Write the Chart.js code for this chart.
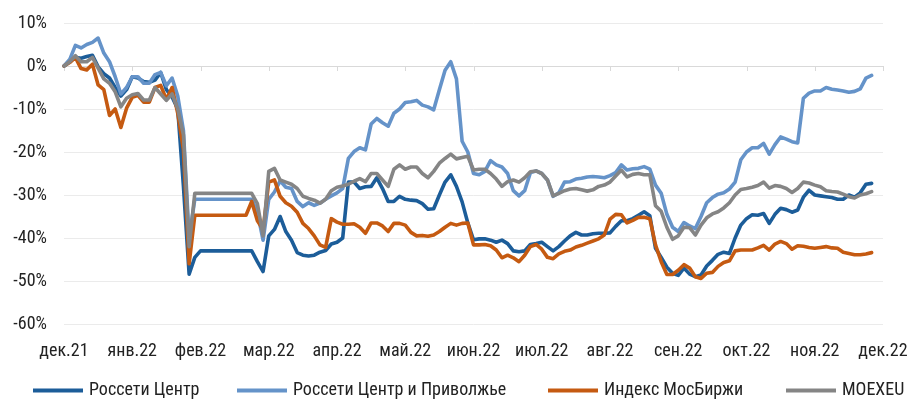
<!DOCTYPE html>
<html>
<head>
<meta charset="utf-8">
<script src="https://cdn.jsdelivr.net/npm/chart.js@4.4.1/dist/chart.umd.min.js"></script>
<style>
  html, body { margin: 0; padding: 0; background: #ffffff; }
  #wrap { width: 908px; height: 403px; position: relative; }
</style>
</head>
<body>
<div id="wrap"><canvas id="c" width="908" height="403"></canvas></div>
<script>
// ---- Data (values in %, one row per month, 12 points per month) ----
const monthLabels = ['дек.21','янв.22','фев.22','мар.22','апр.22','май.22','июн.22','июл.22','авг.22','сен.22','окт.22','ноя.22','дек.22'];
const pointsPerMonth = 12;
const seriesNames = ['Россети Центр', 'Россети Центр и Приволжье', 'Индекс МосБиржи', 'MOEXEU'];

const rossetiCenter = [
  0, 1, 2, 1.8, 2.2, 2.5, -0.2, -1.8, -2.8, -5, -7, -5.5,
  -2.5, -2.8, -3.6, -3.8, -3.3, -1.5, -5.5, -7.2, -10, -28, -48.4, -44.5,
  -43, -43, -43, -43, -43, -43, -43, -43, -43, -43, -45.5, -47.8,
  -39.5, -38, -35, -38.5, -40.5, -43.4, -44, -44.2, -44, -43.3, -42.9, -41.4,
  -41, -40, -27, -27, -28.5, -28.1, -28, -26, -28.5, -31.5, -31.5, -30.3,
  -31, -31.2, -31.3, -32, -33.3, -33.2, -30, -27, -25.3, -28, -31.6, -36.5,
  -40.4, -40.2, -40.2, -40.5, -41, -40.5, -41.3, -43, -43.2, -43, -41.5, -41.3,
  -41, -42, -43, -42, -40.7, -39.5, -38.7, -39.3, -39.3, -39, -38.9, -38.9,
  -38.8, -37.3, -36, -36, -35.5, -34.7, -33.9, -34.8, -42.4, -44.5, -46.8, -48.2,
  -48.7, -47, -48.4, -49, -48.6, -46.5, -45.2, -43.8, -43.3, -43.6, -40, -37,
  -35.5, -34.6, -34.7, -34.3, -36.6, -34.5, -33.1, -33.4, -34, -33.5, -30.5, -28.9,
  -30, -30.2, -30.4, -30.6, -31, -31, -30, -30.5, -29.5, -27.5, -27.3
];

const rossetiPrivolzhye = [
  0, 1.5, 4.8, 4.2, 5, 5.5, 6.5, 3, 1, -2.5, -6.5, -5,
  -2.5, -2.5, -4, -4, -2, -1.5, -4.6, -2.8, -7, -15, -40, -31,
  -31, -31, -31, -31, -31, -31, -31, -31, -31, -31, -34, -40.5,
  -31, -29.3, -26.7, -28.2, -28.5, -31.5, -32.7, -31.8, -32.4, -31.9, -31, -30.2,
  -29.5, -28.5, -21.5, -19.9, -19, -19.5, -13.5, -12.2, -13.2, -14, -11, -10,
  -8.5, -8.3, -8, -9.1, -9.5, -10.2, -5.5, -1, 1, -3, -17.5, -20,
  -25, -25.3, -24.5, -22, -23, -23.5, -25, -29, -30.2, -29, -24.8, -24.4,
  -25, -26.5, -30.3, -29.5, -27, -26.9, -26.3, -26.1, -25.8, -25.7, -25.8, -26,
  -25.5, -24.8, -23, -24.2, -23.9, -23.8, -23.4, -24, -27.7, -29.6, -34.5, -37.5,
  -38.5, -36.4, -37.2, -37.8, -35, -31.8, -30.6, -29.8, -29.5, -28.6, -27, -21.8,
  -20, -19, -19, -18, -20.5, -18.3, -16.5, -17, -17.6, -17.9, -7.5, -6.3,
  -5.8, -5.8, -5, -5.4, -5.6, -5.8, -6.1, -5.9, -5.3, -2.8, -2.2
];

const moexIndex = [
  0, 0.8, 2, -0.6, -0.9, 0.4, -4.4, -5.5, -11.5, -10, -14.3, -9.8,
  -7.3, -6.8, -8.4, -8.4, -5, -4.5, -7.8, -5, -11, -19.5, -46, -34.7,
  -34.7, -34.7, -34.7, -34.7, -34.7, -34.7, -34.7, -34.7, -34.7, -31.5, -36, -38,
  -27, -26.5, -30.3, -31.8, -32.6, -34, -36.6, -37.8, -39.5, -41.6, -42.2, -35.5,
  -36.3, -36.8, -36.8, -36.7, -37.5, -38.9, -36.5, -36.5, -37.2, -38.5, -36.6, -36.6,
  -37, -38.7, -39.5, -39.4, -39.6, -39.3, -38.5, -37.5, -36.6, -37, -36.6, -36.5,
  -41.6, -41.6, -41.5, -41.8, -42.8, -44.6, -44, -44.6, -45.5, -44, -42, -41.5,
  -42.6, -44.5, -44.8, -43.7, -43.1, -42.8, -42.1, -41.7, -41.2, -40.7, -40.2, -39.3,
  -35.6, -34.5, -34.6, -36.5, -35.9, -35.2, -35.2, -35.5, -41.6, -45.5, -48.5, -48.5,
  -47.5, -46.2, -47, -49, -49.4, -48.2, -48, -46.6, -45.7, -45.3, -43, -42.8,
  -42.8, -42.8, -42.3, -41.7, -42.8, -41.4, -40.8, -41.3, -42.6, -41.8, -41.9, -42.2,
  -42.4, -42.2, -42, -42.3, -42.4, -43.3, -43.6, -43.9, -43.9, -43.7, -43.4
];

const moexeu = [
  0, 1, 2.4, 1, 1, 2, -0.5, -3, -4, -6, -9.5, -7.5,
  -6.7, -6.4, -7.9, -7.9, -5, -6.5, -8, -6.5, -10, -16, -42, -29.6,
  -29.6, -29.6, -29.6, -29.6, -29.6, -29.6, -29.6, -29.6, -29.6, -29.6, -32, -39.5,
  -24.5, -23.8, -26.5, -27, -27.5, -28.5, -30.3, -30.8, -31.2, -31.9, -31, -29,
  -28.2, -27.9, -27.5, -26.8, -26.2, -26.9, -25, -25, -26.5, -28, -24, -23,
  -24, -23.5, -23.5, -25, -26, -24.5, -22.6, -21.5, -20.5, -21.6, -21.3, -21,
  -24.2, -24, -24, -25, -26.3, -28, -26.9, -26.5, -27, -26, -24.6, -24.4,
  -25, -26.5, -30.2, -29.6, -29, -28.6, -28.5, -28.8, -29.1, -28.8, -28, -27.7,
  -27, -25.6, -24.2, -25.8, -25.2, -25, -25.3, -25.3, -32.5, -33.8, -37.5, -40.3,
  -39.5, -37.5, -37.6, -39.3, -37, -35.3, -34.4, -33.9, -33, -31.8, -30, -28.7,
  -28.5, -28.2, -27.8, -27, -28.4, -27.8, -28, -28.5, -29.4, -28.5, -27, -27.2,
  -27.7, -28.1, -29, -29.2, -29.3, -29.8, -30.4, -30.7, -30, -29.7, -29.2
];

const yTicks = [10, 0, -10, -20, -30, -40, -50, -60];

// ---- Build category labels: month label at every 12th point ----
const categories = [];
monthLabels.forEach((m, k) => {
  categories.push(m);
  if (k < monthLabels.length - 1) {
    for (let j = 1; j < pointsPerMonth; j++) categories.push('');
  }
});

const colors = ['#1c5d99', '#6593c9', '#c55a11', '#858585'];
const FONT = '"Roboto Condensed", "Open Sans Condensed", "DejaVu Sans Condensed", sans-serif';
const FSIZE = 18;
const TEXT = '#222222';

const seriesData = [rossetiCenter, rossetiPrivolzhye, moexIndex, moexeu];
const datasets = seriesData.map((d, i) => ({
  label: seriesNames[i],
  data: d,
  borderColor: colors[i],
  backgroundColor: colors[i],
  borderWidth: 3.6,
  pointRadius: 0,
  tension: 0,
  borderJoinStyle: 'round',
  borderCapStyle: 'round',
  order: seriesData.length - i
}));

// small tick marks on the 0% line at each month
const zeroTicks = {
  id: 'zeroTicks',
  beforeDatasetsDraw(chart) {
    const x = chart.scales.x, y = chart.scales.y;
    const y0 = Math.round(y.getPixelForValue(0));
    const ctx = chart.ctx;
    ctx.save();
    ctx.strokeStyle = '#d9d9d9';
    ctx.lineWidth = 1;
    for (let i = 0; i < categories.length; i += pointsPerMonth) {
      const px = Math.round(x.getPixelForValue(i)) + 0.5;
      ctx.beginPath();
      ctx.moveTo(px, y0);
      ctx.lineTo(px, y0 + 5);
      ctx.stroke();
    }
    ctx.restore();
  }
};

// legend row at the bottom (line sample + label for each dataset)
const legendStarts = [33, 237, 548, 786];
const bottomLegend = {
  id: 'bottomLegend',
  afterDraw(chart) {
    const ctx = chart.ctx;
    const yc = 390.5;
    ctx.save();
    ctx.font = FSIZE + 'px ' + FONT;
    ctx.textBaseline = 'middle';
    ctx.textAlign = 'left';
    chart.data.datasets.forEach((ds, i) => {
      const x0 = legendStarts[i];
      ctx.strokeStyle = ds.borderColor;
      ctx.lineWidth = 4;
      ctx.lineCap = 'butt';
      ctx.beginPath();
      ctx.moveTo(x0, yc);
      ctx.lineTo(x0 + 50, yc);
      ctx.stroke();
      ctx.fillStyle = TEXT;
      ctx.fillText(ds.label, x0 + 56, yc);
    });
    ctx.restore();
  }
};

new Chart(document.getElementById('c'), {
  type: 'line',
  data: { labels: categories, datasets },
  plugins: [zeroTicks, bottomLegend],
  options: {
    responsive: false,
    animation: false,
    layout: { padding: { left: 0, right: 25, top: 23, bottom: 39 } },
    plugins: {
      tooltip: { enabled: false },
      legend: { display: false }
    },
    scales: {
      x: {
        type: 'category',
        offset: false,
        grid: { display: false, drawTicks: false },
        border: { display: false },
        afterFit: (s) => { s.height = 40; s.paddingLeft = 0; s.paddingRight = 0; },
        ticks: {
          autoSkip: false,
          maxRotation: 0,
          padding: 17,
          color: TEXT,
          font: { family: FONT, size: FSIZE },
          callback: (v, i) => categories[i]
        }
      },
      y: {
        min: -60,
        max: 10,
        afterFit: (s) => { s.width = 64; s.paddingTop = 0; s.paddingBottom = 0; },
        afterBuildTicks: (s) => { s.ticks = yTicks.map(v => ({ value: v })); },
        grid: {
          drawTicks: false,
          color: (c) => (c.tick && c.tick.value === 0 ? '#d9d9d9' : '#ebebeb'),
          lineWidth: 1
        },
        border: { display: false },
        ticks: {
          padding: 17,
          color: TEXT,
          font: { family: FONT, size: FSIZE },
          callback: (v) => v + '%'
        }
      }
    }
  }
});
</script>
</body>
</html>
